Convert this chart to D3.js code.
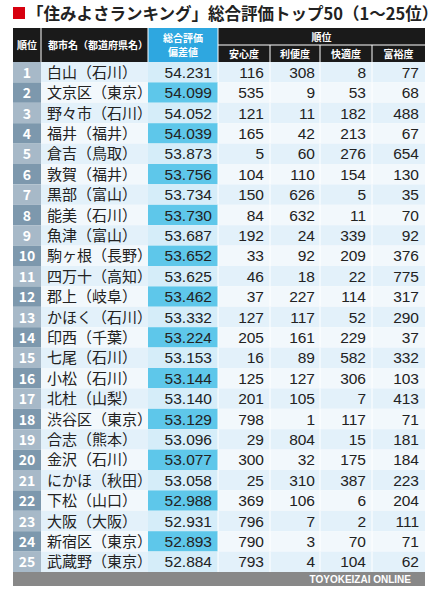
<!DOCTYPE html><html><head><meta charset="utf-8"><script src="https://cdn.jsdelivr.net/npm/d3@7"></script>
<style>body{margin:0;background:#fff}</style></head><body><svg id="c" width="435" height="600"></svg>
<script>
const cities=["白山（石川）","文京区（東京）","野々市（石川）","福井（福井）","倉吉（鳥取）","敦賀（福井）","黒部（富山）","能美（石川）","魚津（富山）","駒ヶ根（長野）","四万十（高知）","郡上（岐阜）","かほく（石川）","印西（千葉）","七尾（石川）","小松（石川）","北杜（山梨）","渋谷区（東京）","合志（熊本）","金沢（石川）","にかほ（秋田）","下松（山口）","大阪（大阪）","新宿区（東京）","武蔵野（東京）"];
const scores=["54.231","54.099","54.052","54.039","53.873","53.756","53.734","53.730","53.687","53.652","53.625","53.462","53.332","53.224","53.153","53.144","53.140","53.129","53.096","53.077","53.058","52.988","52.931","52.893","52.884"];
const anshin=[116,535,121,165,5,104,150,84,192,33,46,37,127,205,16,125,201,798,29,300,25,369,796,790,793];
const riben=[308,9,11,42,60,110,626,632,24,92,18,227,117,161,89,127,105,1,804,32,310,106,7,3,4];
const kaiteki=[8,53,182,213,276,154,5,11,339,209,22,114,52,229,582,306,7,117,15,175,387,6,2,70,104];
const fuyu=[77,68,488,67,654,130,35,70,92,376,775,317,290,37,332,103,413,71,181,184,223,204,111,71,62];
const subHeads=["安心度","利便度","快適度","富裕度"];
const svg=d3.select("#c");
const F="'Noto Sans CJK JP',sans-serif";
const X0=13,X1=425;
const cols=[13,41,148,218,270,320,372,425];
const y=d3.scaleBand().domain(d3.range(25)).range([62,572]);
svg.append("rect").attr("x",13).attr("y",7).attr("width",12).attr("height",12).attr("fill","#d7000f");
svg.append("text").attr("x",27).attr("y",20).attr("font-family",F).attr("font-size",16.5).attr("font-weight","bold").attr("fill","#222").text("「住みよさランキング」総合評価トップ50（1〜25位）");
svg.append("rect").attr("x",X0).attr("y",28).attr("width",X1-X0).attr("height",34).attr("fill","#1a1a1a");
svg.append("rect").attr("x",cols[2]).attr("y",28).attr("width",cols[3]-cols[2]).attr("height",34).attr("fill","#2ea7e0");
[cols[1],cols[2],cols[3]].forEach(x=>svg.append("line").attr("x1",x).attr("x2",x).attr("y1",28).attr("y2",62).attr("stroke","#fff"));
svg.append("line").attr("x1",cols[3]).attr("x2",X1).attr("y1",45).attr("y2",45).attr("stroke","#fff");
[4,5,6].forEach(i=>svg.append("line").attr("x1",cols[i]).attr("x2",cols[i]).attr("y1",45).attr("y2",62).attr("stroke","#fff"));
const ht=(x,yy,t,s,a="middle")=>svg.append("text").attr("x",x).attr("y",yy).attr("text-anchor",a).attr("font-family",F).attr("font-size",s).attr("font-weight","bold").attr("fill","#fff").text(t);
ht(27,49,"順位",10);ht(48,49,"都市名（都道府県名）",10,"start");
ht(183,42,"総合評価",10);ht(183,56,"偏差値",10);
ht((cols[3]+X1)/2,41,"順位",10);
subHeads.forEach((t,i)=>ht((cols[3+i]+cols[4+i])/2,58,t,10));
const g=svg.selectAll("g.r").data(d3.range(25)).join("g");
g.append("rect").attr("x",cols[1]).attr("y",d=>y(d)).attr("width",X1-cols[1]).attr("height",y.bandwidth()).attr("fill",d=>d%2?"#f2f8fc":"#e3f1fa");
g.append("rect").attr("x",cols[2]).attr("y",d=>y(d)).attr("width",cols[3]-cols[2]).attr("height",y.bandwidth()).attr("fill",d=>d%2?"#5ec7ea":"#d5edf9");
g.append("rect").attr("x",X0).attr("y",d=>y(d)).attr("width",cols[1]-X0).attr("height",y.bandwidth()).attr("fill",d=>d%2?"#7d98ad":"#a7b9c8");
[3,4,5,6].forEach(i=>g.append("line").attr("x1",cols[i]).attr("x2",cols[i]).attr("y1",d=>y(d)).attr("y2",d=>y(d)+y.bandwidth()).attr("stroke","#fff"));
const ty=d=>y(d)+y.bandwidth()/2+5.5;
g.append("text").attr("x",27).attr("y",ty).attr("text-anchor","middle").attr("font-family",F).attr("font-weight","bold").attr("font-size",14).attr("fill","#fff").text(d=>d+1);
g.append("text").attr("x",47).attr("y",ty).attr("font-family",F).attr("font-size",15).attr("fill","#222").text(d=>cities[d]);
const num=(arr,x)=>g.append("text").attr("x",x).attr("y",ty).attr("text-anchor","end").attr("font-family","'Liberation Sans',Arial,sans-serif").attr("font-size",15.5).attr("fill","#222").text(d=>arr[d]);
num(scores,212);num(anshin,264);num(riben,315);num(kaiteki,366);num(fuyu,419);
svg.append("rect").attr("x",X0).attr("y",572).attr("width",X1-X0).attr("height",14).attr("fill","#888");
svg.append("text").attr("x",411).attr("y",583).attr("text-anchor","end").attr("font-family","'Liberation Sans',Arial,sans-serif").attr("font-size",10).attr("font-weight","bold").attr("fill","#fff").text("TOYOKEIZAI  ONLINE");
</script></body></html>
